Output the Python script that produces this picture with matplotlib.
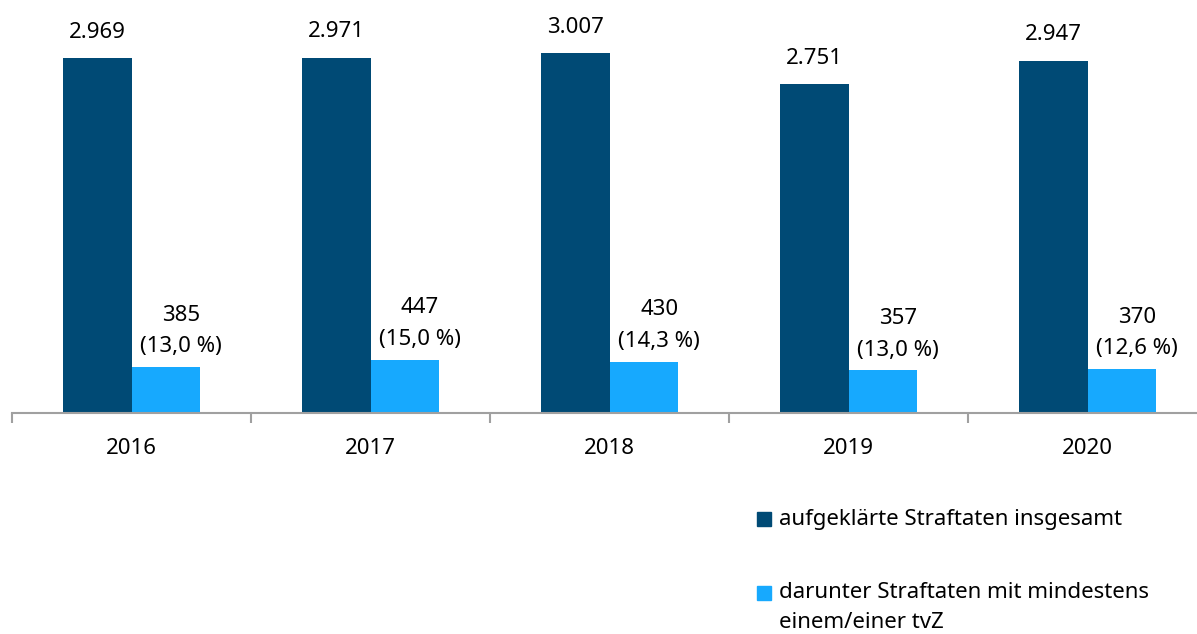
import numpy as np
import matplotlib.pyplot as plt
from matplotlib.patches import Rectangle

plt.rcParams['font.family'] = ['Noto Sans', 'DejaVu Sans']

years = ['2016', '2017', '2018', '2019', '2020']
insgesamt = [2969, 2971, 3007, 2751, 2947]
tvz = [385, 447, 430, 357, 370]
anteil = ['13,0', '15,0', '14,3', '13,0', '12,6']

dunkel = '#004a75'
hell = '#17a9fe'

W, H = 1197, 634
fig = plt.figure(figsize=(W / 100, H / 100), dpi=100)
# axes laeuft rechts ueber den Rand hinaus (wie im Original)
ax = fig.add_axes([12 / W, (H - 413) / H, 1195 / W, 413 / H])

x = np.arange(len(years))
bw = 0.287
ax.bar(x - bw / 2, insgesamt, bw, color=dunkel, label='aufgeklärte Straftaten insgesamt')
ax.bar(x + bw / 2, tvz, bw, color=hell, label='darunter Straftaten mit mindestens\neinem/einer tvZ')

ax.set_xlim(-0.5, len(years) - 0.5)
ax.set_ylim(0, 413 / 0.1196)

fs = 16
for i in range(len(years)):
    s = f'{insgesamt[i]:,}'.replace(',', '.')
    ax.annotate(s, (x[i] - bw / 2, insgesamt[i]), xytext=(0, 11), textcoords='offset points',
                ha='center', va='bottom', fontsize=fs)
    ax.annotate(f'{tvz[i]}\n({anteil[i]} %)', (x[i] + bw / 2, tvz[i]), xytext=(11, 7),
                textcoords='offset points', ha='center', va='bottom', fontsize=fs,
                linespacing=1.65)

for s in ['top', 'right', 'left']:
    ax.spines[s].set_visible(False)
ax.spines['bottom'].set_color('#a0a0a0')
ax.spines['bottom'].set_linewidth(1.5)
ax.set_yticks([])
ax.set_xticks(np.arange(len(years) + 1) - 0.5)
ax.set_xticklabels([])
ax.tick_params(axis='x', length=7, width=1.5, color='#a0a0a0')
for i, y in enumerate(years):
    ax.text(x[i], -0.085, y, transform=ax.get_xaxis_transform(), ha='center', va='center',
            fontsize=fs)

# Legende
fig.patches.append(Rectangle((757 / W, (H - 526) / H), 14 / W, 14 / H,
                             transform=fig.transFigure, color=dunkel))
fig.text(779 / W, (H - 519) / H, 'aufgeklärte Straftaten insgesamt', ha='left',
         va='center', fontsize=fs)
fig.patches.append(Rectangle((757 / W, (H - 600) / H), 14 / W, 14 / H,
                             transform=fig.transFigure, color=hell))
fig.text(779 / W, (H - 582) / H, 'darunter Straftaten mit mindestens\neinem/einer tvZ',
         ha='left', va='top', fontsize=fs, linespacing=1.55)

fig.savefig('out.png', dpi=100)
